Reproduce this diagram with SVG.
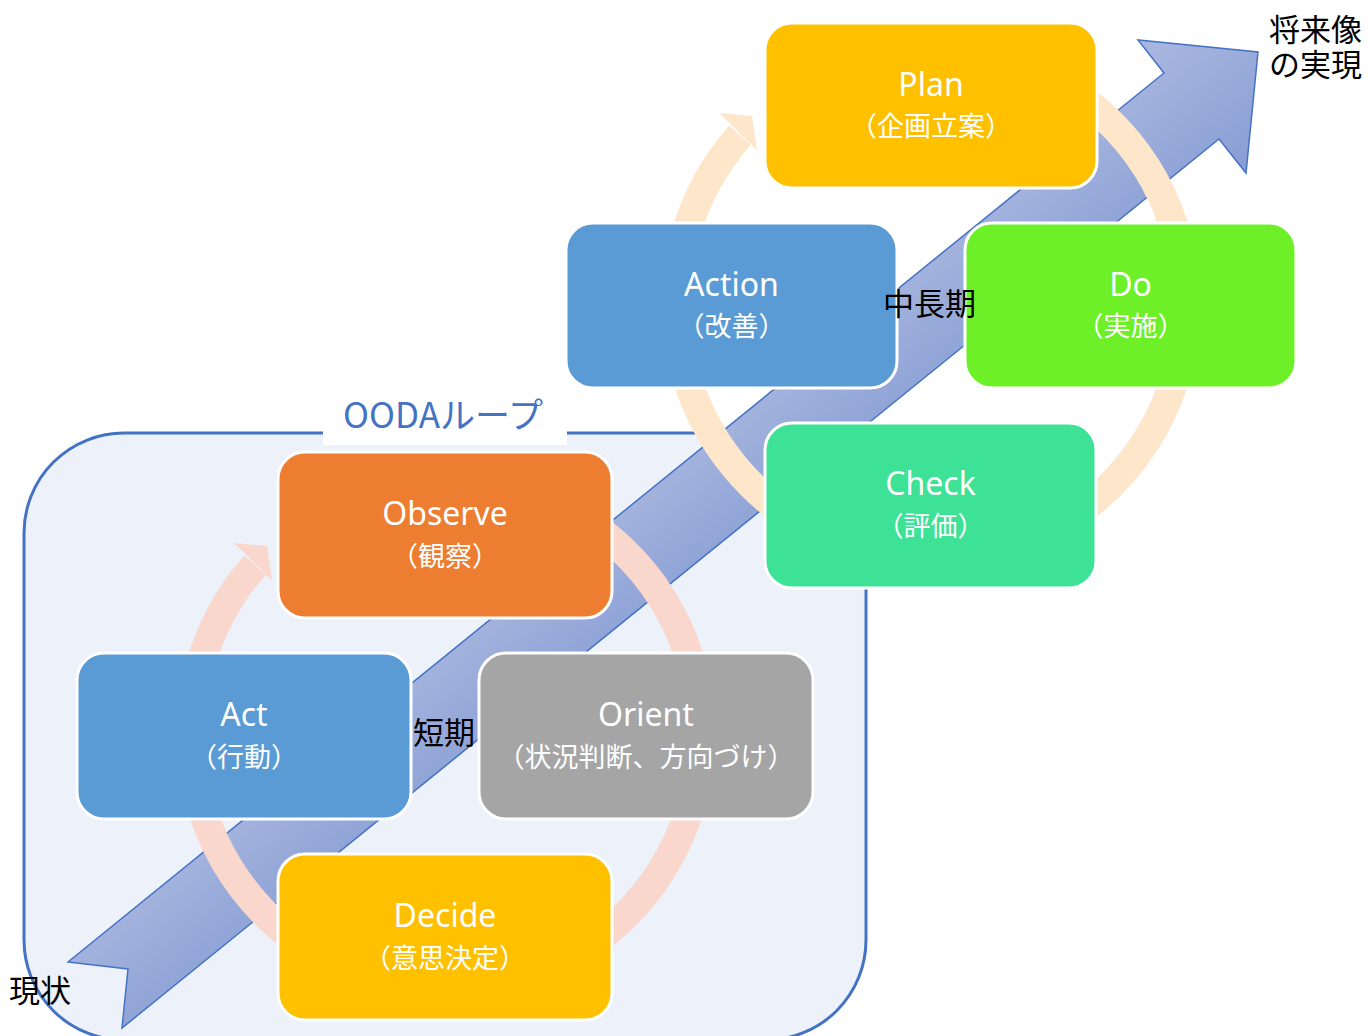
<svg xmlns="http://www.w3.org/2000/svg" width="1368" height="1036" viewBox="0 0 1368 1036">
<style>
.box{stroke:#ffffff;stroke-width:3}
.t{font-family:"Noto Sans","Noto Sans CJK JP",sans-serif;font-size:32px;fill:#ffffff;text-anchor:middle}
.s{font-family:"Noto Sans CJK JP","Noto Sans",sans-serif;font-size:27px;fill:#ffffff;text-anchor:middle}
.k{font-family:"Noto Sans CJK JP",sans-serif;font-size:31px;fill:#000000}
.ring{fill:none;stroke-width:29}
</style>
<defs>
<linearGradient id="ag" gradientUnits="userSpaceOnUse" x1="1138" y1="40" x2="1246" y2="173">
<stop offset="0" stop-color="#abb9e0"/>
<stop offset="1" stop-color="#889dd4"/>
</linearGradient>
</defs>
<rect width="1368" height="1036" fill="#ffffff"/>
<g id="ooda-frame">
<rect x="24" y="433" width="842" height="607" rx="100" fill="#edf1f9" stroke="#4472c4" stroke-width="3"/>
<rect x="323" y="395" width="244" height="50" fill="#ffffff"/>
<text x="443" y="428" font-family="'Noto Sans CJK JP','Noto Sans',sans-serif" font-size="35" fill="#4472c4" text-anchor="middle">OODAループ</text>
</g>
<g id="connectors">
<polygon id="big-arrow" points="68,962 1164,73 1138,40 1258,52 1246,173 1219,139 122,1028 128,969" fill="url(#ag)" stroke="#4472c4" stroke-width="1.5" stroke-linejoin="miter"/>
<g id="ooda-ring">
<path class="ring" stroke="#f9d7cc" d="M401.72,482.87 A255,255 0 1 1 255.02,565.03"/>
<polygon fill="#f9d7cc" points="234,543 267,546 272,580"/>
</g>
<g id="pdca-ring">
<path class="ring" stroke="#fee6cb" d="M886.72,52.87 A255,255 0 1 1 740.02,135.03"/>
<polygon fill="#fee6cb" points="719,113 752,116 757,150"/>
</g>
</g>
<g id="observe"><rect class="box" x="278" y="452" width="334" height="166" rx="27" fill="#ed7d31"/><text class="t" x="445" y="525">Observe</text><text class="s" x="445" y="566">（観察）</text></g>
<g id="act"><rect class="box" x="77" y="653" width="334" height="166" rx="27" fill="#5b9bd5"/><text class="t" x="244" y="726">Act</text><text class="s" x="244" y="767">（行動）</text></g>
<g id="orient"><rect class="box" x="479" y="653" width="334" height="166" rx="27" fill="#a5a5a5"/><text class="t" x="646" y="726">Orient</text><text class="s" x="646" y="767">（状況判断、方向づけ）</text></g>
<g id="decide"><rect class="box" x="278" y="854" width="334" height="166" rx="27" fill="#ffc000"/><text class="t" x="445" y="927">Decide</text><text class="s" x="445" y="968">（意思決定）</text></g>
<g id="plan"><rect class="box" x="765" y="23" width="332" height="165" rx="27" fill="#ffc000"/><text class="t" x="931" y="96">Plan</text><text class="s" x="931" y="136">（企画立案）</text></g>
<g id="action"><rect class="box" x="566" y="223" width="331" height="165" rx="27" fill="#5b9bd5"/><text class="t" x="731.5" y="296">Action</text><text class="s" x="731.5" y="336">（改善）</text></g>
<g id="do"><rect class="box" x="965" y="223" width="331" height="165" rx="27" fill="#6df028"/><text class="t" x="1130.5" y="296">Do</text><text class="s" x="1130.5" y="336">（実施）</text></g>
<g id="check"><rect class="box" x="765" y="423" width="331" height="165" rx="27" fill="#3ee296"/><text class="t" x="930.5" y="495">Check</text><text class="s" x="930.5" y="536">（評価）</text></g>
<g id="labels">
<text class="k" x="883" y="315">中長期</text>
<text class="k" x="413" y="744">短期</text>
<text class="k" x="1269" y="41"><tspan x="1269" y="41">将来像</tspan><tspan x="1269" y="76">の実現</tspan></text>
<text class="k" x="9" y="1002">現状</text>
</g>
</svg>
